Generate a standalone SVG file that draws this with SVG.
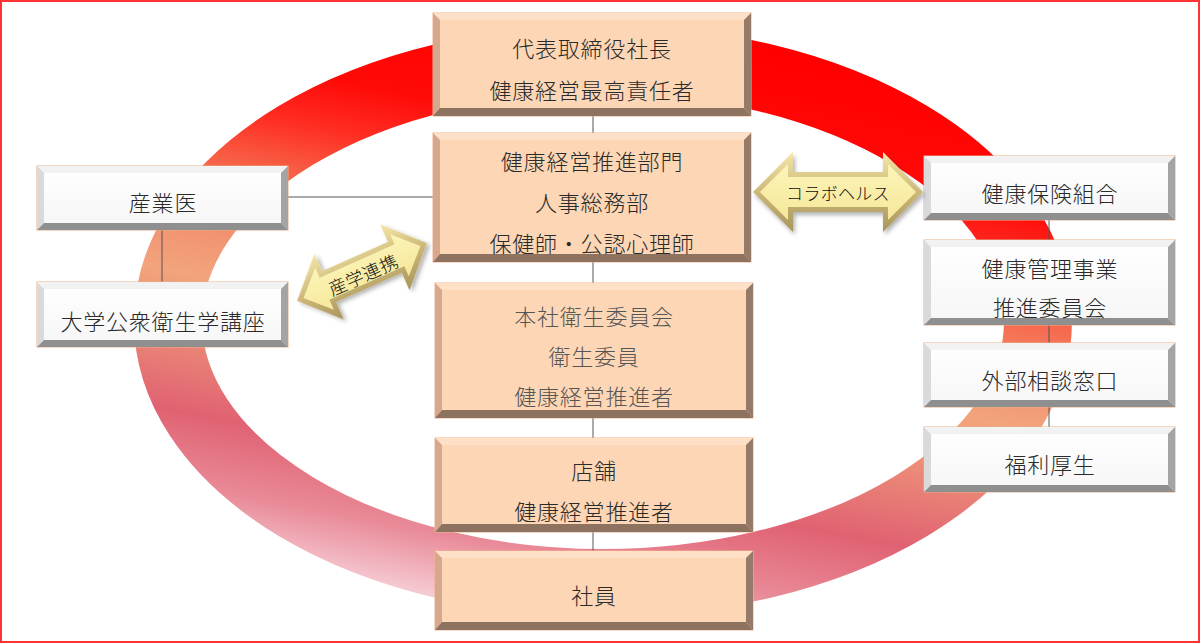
<svg xmlns="http://www.w3.org/2000/svg" width="1200" height="643" viewBox="0 0 1200 643">
<style>
  .t { font-family: "Noto Sans CJK JP", "Noto Sans", sans-serif; font-size: 22px; font-weight: 300; letter-spacing: 0.8px; fill: #2a2a2a; text-anchor: middle; dominant-baseline: central; }
  .tg { fill: #555; }
  .ta { font-family: "Noto Sans CJK JP", "Noto Sans", sans-serif; font-size: 17px; font-weight: 300; letter-spacing: 0.3px; fill: #111; text-anchor: middle; dominant-baseline: central; }
  .pf { fill: #fdd6b5; stroke: #f1b48e; stroke-width: 1; }
  .pt { fill: #fde0c6; }
  .pl { fill: #d6a88e; }
  .pr { fill: #957a67; }
  .pb { fill: #8e7260; }
  .wf { fill: url(#whiteFace); stroke: #e8b088; stroke-width: 1; }
  .wt { fill: #f2f2f2; }
  .wl { fill: #dadada; }
  .wr { fill: #a4a4a4; }
  .wb { fill: #8f8f8f; }
  .conn line { stroke: #555; stroke-width: 1; }
  .ao { fill: url(#arrowEdge); filter: url(#shadow); }
  .af { fill: url(#arrowFace); }
</style>
<defs>
  <linearGradient id="ringGrad" gradientUnits="userSpaceOnUse" x1="655" y1="30" x2="545" y2="620">
    <stop offset="0" stop-color="#ff0000"/>
    <stop offset="0.18" stop-color="#ff0a08"/>
    <stop offset="0.26" stop-color="#ff2c22"/>
    <stop offset="0.34" stop-color="#f85e44"/>
    <stop offset="0.45" stop-color="#f28e6e"/>
    <stop offset="0.54" stop-color="#f2a47c"/>
    <stop offset="0.64" stop-color="#ec8a78"/>
    <stop offset="0.77" stop-color="#e06272"/>
    <stop offset="0.89" stop-color="#e98a98"/>
    <stop offset="1" stop-color="#f6ced6"/>
  </linearGradient>
  <linearGradient id="whiteFace" x1="0" y1="0" x2="0" y2="1">
    <stop offset="0" stop-color="#ffffff"/>
    <stop offset="1" stop-color="#f6f6f6"/>
  </linearGradient>
  <linearGradient id="arrowEdge" x1="0" y1="0" x2="0" y2="1">
    <stop offset="0" stop-color="#f4e7a8"/>
    <stop offset="0.5" stop-color="#cdb878"/>
    <stop offset="1" stop-color="#a8955c"/>
  </linearGradient>
  <linearGradient id="arrowFace" x1="0" y1="0" x2="0" y2="1">
    <stop offset="0" stop-color="#fcf5b8"/>
    <stop offset="1" stop-color="#f6e79a"/>
  </linearGradient>
  <filter id="shadow" x="-20%" y="-30%" width="140%" height="160%">
    <feDropShadow dx="2" dy="3" stdDeviation="2" flood-color="#000" flood-opacity="0.3"/>
  </filter>
</defs>

<rect x="1" y="1" width="1198" height="641" fill="#ffffff" stroke="#ff3333" stroke-width="2"/>

<ellipse id="ring" cx="603" cy="321" rx="435" ry="262" fill="none" stroke="url(#ringGrad)" stroke-width="68"/>

<g id="connectors" class="conn">
  <line x1="593" y1="116" x2="593" y2="133"/>
  <line x1="593" y1="262" x2="593" y2="283"/>
  <line x1="593" y1="418" x2="593" y2="438"/>
  <line x1="593" y1="532" x2="593" y2="551"/>
  <line x1="288" y1="197" x2="433" y2="197"/>
  <line x1="162" y1="230" x2="162" y2="282"/>
  <line x1="1049" y1="220" x2="1049" y2="240"/>
  <line x1="1049" y1="325" x2="1049" y2="343"/>
  <line x1="1049" y1="407" x2="1049" y2="427"/>
</g>

<g id="ceo">
  <rect class="pf" x="433" y="13" width="318" height="103"/>
  <polygon class="pt" points="433,13 751,13 744,20 440,20"/>
  <polygon class="pl" points="433,13 440,20 440,108 433,116"/>
  <polygon class="pr" points="751,13 751,116 744,108 744,20"/>
  <polygon class="pb" points="433,116 440,108 744,108 751,116"/>
  <text class="t" x="592" y="47">代表取締役社長</text>
  <text class="t" x="592" y="89">健康経営最高責任者</text>
</g>

<g id="promotion">
  <rect class="pf" x="433" y="133" width="318" height="129"/>
  <polygon class="pt" points="433,133 751,133 744,140 440,140"/>
  <polygon class="pl" points="433,133 440,140 440,254 433,262"/>
  <polygon class="pr" points="751,133 751,262 744,254 744,140"/>
  <polygon class="pb" points="433,262 440,254 744,254 751,262"/>
  <text class="t" x="592" y="160">健康経営推進部門</text>
  <text class="t" x="592" y="201">人事総務部</text>
  <text class="t" x="592" y="242">保健師・公認心理師</text>
</g>

<g id="committee">
  <rect class="pf" x="435" y="283" width="318" height="135"/>
  <polygon class="pt" points="435,283 753,283 746,290 442,290"/>
  <polygon class="pl" points="435,283 442,290 442,410 435,418"/>
  <polygon class="pr" points="753,283 753,418 746,410 746,290"/>
  <polygon class="pb" points="435,418 442,410 746,410 753,418"/>
  <text class="t tg" x="594" y="315">本社衛生委員会</text>
  <text class="t tg" x="594" y="355">衛生委員</text>
  <text class="t tg" x="594" y="395">健康経営推進者</text>
</g>

<g id="store">
  <rect class="pf" x="435" y="438" width="318" height="94"/>
  <polygon class="pt" points="435,438 753,438 746,445 442,445"/>
  <polygon class="pl" points="435,438 442,445 442,524 435,532"/>
  <polygon class="pr" points="753,438 753,532 746,524 746,445"/>
  <polygon class="pb" points="435,532 442,524 746,524 753,532"/>
  <text class="t" x="594" y="469">店舗</text>
  <text class="t" x="594" y="510">健康経営推進者</text>
</g>

<g id="employee">
  <rect class="pf" x="435" y="551" width="318" height="79"/>
  <polygon class="pt" points="435,551 753,551 746,558 442,558"/>
  <polygon class="pl" points="435,551 442,558 442,622 435,630"/>
  <polygon class="pr" points="753,551 753,630 746,622 746,558"/>
  <polygon class="pb" points="435,630 442,622 746,622 753,630"/>
  <text class="t" x="594" y="594">社員</text>
</g>

<g id="doctor">
  <rect class="wf" x="37" y="166" width="251" height="64"/>
  <polygon class="wt" points="37,166 288,166 281,173 44,173"/>
  <polygon class="wl" points="37,166 44,173 44,223 37,230"/>
  <polygon class="wr" points="288,166 288,230 281,223 281,173"/>
  <polygon class="wb" points="37,230 44,223 281,223 288,230"/>
  <text class="t" x="163" y="201">産業医</text>
</g>

<g id="university">
  <rect class="wf" x="37" y="282" width="251" height="65"/>
  <polygon class="wt" points="37,282 288,282 281,289 44,289"/>
  <polygon class="wl" points="37,282 44,289 44,340 37,347"/>
  <polygon class="wr" points="288,282 288,347 281,340 281,289"/>
  <polygon class="wb" points="37,347 44,340 281,340 288,347"/>
  <text class="t" x="163" y="320">大学公衆衛生学講座</text>
</g>

<g id="insurance">
  <rect class="wf" x="924" y="156" width="251" height="64"/>
  <polygon class="wt" points="924,156 1175,156 1168,163 931,163"/>
  <polygon class="wl" points="924,156 931,163 931,213 924,220"/>
  <polygon class="wr" points="1175,156 1175,220 1168,213 1168,163"/>
  <polygon class="wb" points="924,220 931,213 1168,213 1175,220"/>
  <text class="t" x="1050" y="192">健康保険組合</text>
</g>

<g id="management">
  <rect class="wf" x="924" y="240" width="251" height="85"/>
  <polygon class="wt" points="924,240 1175,240 1168,247 931,247"/>
  <polygon class="wl" points="924,240 931,247 931,318 924,325"/>
  <polygon class="wr" points="1175,240 1175,325 1168,318 1168,247"/>
  <polygon class="wb" points="924,325 931,318 1168,318 1175,325"/>
  <text class="t" x="1050" y="267">健康管理事業</text>
  <text class="t" x="1050" y="306">推進委員会</text>
</g>

<g id="consult">
  <rect class="wf" x="924" y="343" width="251" height="64"/>
  <polygon class="wt" points="924,343 1175,343 1168,350 931,350"/>
  <polygon class="wl" points="924,343 931,350 931,400 924,407"/>
  <polygon class="wr" points="1175,343 1175,407 1168,400 1168,350"/>
  <polygon class="wb" points="924,407 931,400 1168,400 1175,407"/>
  <text class="t" x="1050" y="379">外部相談窓口</text>
</g>

<g id="welfare">
  <rect class="wf" x="924" y="427" width="251" height="65"/>
  <polygon class="wt" points="924,427 1175,427 1168,434 931,434"/>
  <polygon class="wl" points="924,427 931,434 931,485 924,492"/>
  <polygon class="wr" points="1175,427 1175,492 1168,485 1168,434"/>
  <polygon class="wb" points="924,492 931,485 1168,485 1175,492"/>
  <text class="t" x="1050" y="463">福利厚生</text>
</g>

<g id="collabo-arrow" transform="translate(838,192)">
  <polygon class="ao" points="-85,0 -45,-40 -45,-20 45,-20 45,-40 85,0 45,40 45,20 -45,20 -45,40"/>
  <polygon class="af" points="-78,0 -50,-28 -50,-15 50,-15 50,-28 78,0 50,28 50,15 -50,15 -50,28"/>
  <text class="ta" x="0" y="0">コラボヘルス</text>
</g>

<g id="academia-arrow" transform="translate(362,272) rotate(-24)">
  <polygon class="ao" points="-71,0 -36,-36 -36,-17 36,-17 36,-36 71,0 36,36 36,17 -36,17 -36,36"/>
  <polygon class="af" points="-64,0 -41,-23 -41,-12 41,-12 41,-23 64,0 41,23 41,12 -41,12 -41,23"/>
  <text class="ta" x="0" y="2" style="font-size:18px;letter-spacing:0.5px">産学連携</text>
</g>
</svg>
